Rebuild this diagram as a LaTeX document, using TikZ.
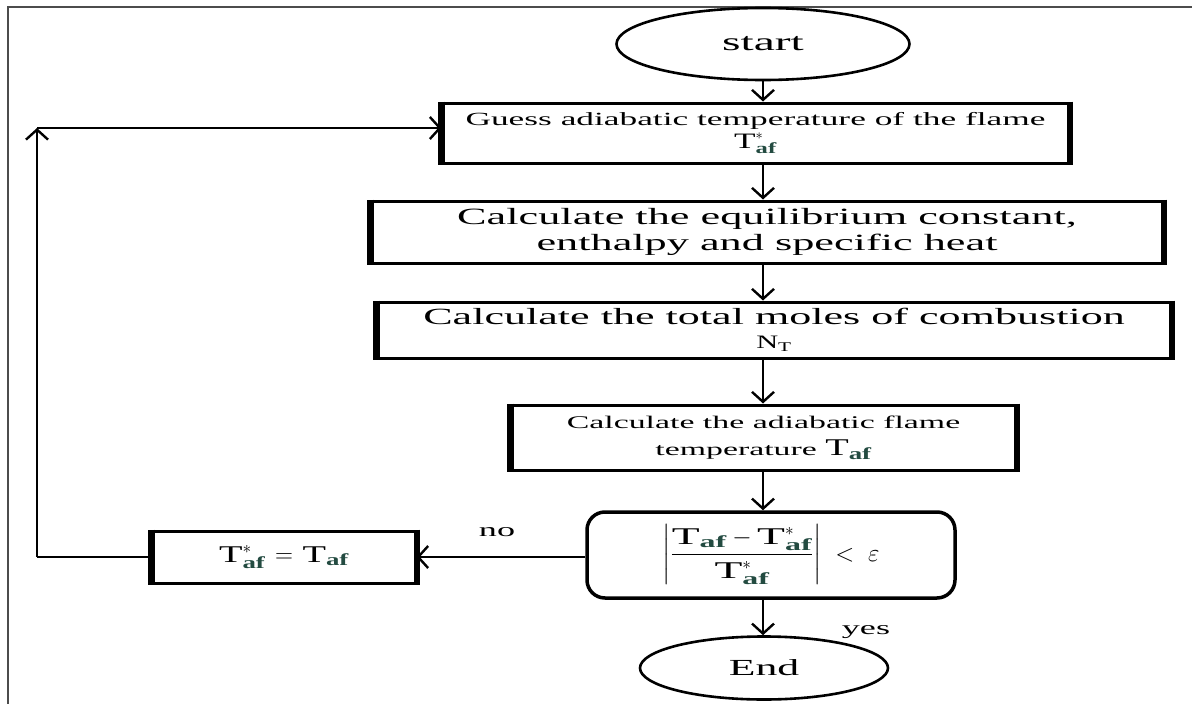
\documentclass[tikz,border=0pt]{standalone}
\usepackage{amsmath}
\usepackage{fontspec}
\setmainfont{Liberation Serif}
\newfontfamily\fa[FakeStretch=1.9]{Liberation Serif}
\newfontfamily\fb[FakeStretch=1.6]{Liberation Serif}
\usetikzlibrary{arrows.meta,shapes.geometric}
\definecolor{subc}{RGB}{35,75,65}
\newcommand\Ts[1]{\ensuremath{\text{T}^{#1}_{\text{\textcolor{subc}{\bfseries af}}}}}
\newcommand\Tn{\ensuremath{\text{T}_{\text{\textcolor{subc}{\bfseries af}}}}}
\tikzset{
  frame/.style={draw=black!70, line width=1.6pt},
  oval/.style={ellipse, draw, line width=2.6pt, inner sep=0pt},
  pbox/.style={rectangle, draw, line width=3pt, inner sep=0pt, align=center},
  dbox/.style={rectangle, rounded corners=18pt, draw, line width=3.5pt, inner sep=0pt, align=center},
  conn/.style={line width=2.4pt},
  arr/.style={line width=2.4pt, -{Straight Barb[length=10pt,width=22pt,line width=2.4pt]}},
  lbl/.style={inner sep=0pt, font=\fa\fontsize{19}{24}\selectfont}
}
\begin{document}
\begin{tikzpicture}[x=1pt,y=-1pt]
\useasboundingbox (0,0) rectangle (1192,704);
\fill[white] (0,0) rectangle (1192,704);
\draw[frame] (8,704) -- (8,7) -- (1192,7);

\node[oval, minimum width=293pt, minimum height=72pt, font=\fa\fontsize{25}{27}\selectfont] (start) at (763,44) {start};

\node[pbox, minimum width=625pt, minimum height=60pt, font=\fa\fontsize{18.6}{22}\selectfont] (b1) at (755.5,133)
  {Guess adiabatic temperature of the flame\\[1pt]{\fb\fontsize{22}{22}\selectfont\Ts{*}}};

\node[pbox, minimum width=790pt, minimum height=62pt, font=\fa\fontsize{23.3}{26}\selectfont] (b2) at (767,232)
  {Calculate the equilibrium constant,\\enthalpy and specific heat};

\node[pbox, minimum width=792pt, minimum height=56pt, font=\fa\fontsize{23.2}{24}\selectfont] (b3) at (774,330)
  {Calculate the total moles of combustion\\{\fb\fontsize{19}{16}\selectfont N\textsubscript{T}}};

\node[pbox, minimum width=503pt, minimum height=65pt, font=\fa\fontsize{17.8}{27}\selectfont] (b4) at (763.5,437.5)
  {Calculate the adiabatic flame\\temperature {\fb\fontsize{24}{23}\selectfont\Tn}};

\node[dbox, minimum width=368pt, minimum height=86pt, font=\fa\fontsize{24}{26}\selectfont] (dec) at (771,555)
  {$\left|\dfrac{\Tn-\Ts{*}}{\Ts{*}}\right|\;<\;\varepsilon$};

\node[pbox, minimum width=262pt, minimum height=52pt, font=\fb\fontsize{24}{28}\selectfont] (b5) at (284,557)
  {\Ts{*} $=$ \Tn};

\node[oval, minimum width=248pt, minimum height=63pt, font=\fa\fontsize{23}{27}\selectfont] (end) at (764,668) {End};

\foreach \n in {b1,b2,b3,b4,b5}{
  \draw[line width=7pt] (\n.north west) -- (\n.south west);
  \draw[line width=6pt] (\n.north east) -- (\n.south east);
}

\node[lbl] (no) at (497,532) {no};
\node[lbl] (yes) at (866,632) {yes};

\draw[arr] (start.south) -- (start.south |- b1.north);
\draw[arr] (start.south |- b1.south) -- (start.south |- b2.north);
\draw[arr] (start.south |- b2.south) -- (start.south |- b3.north);
\draw[arr] (start.south |- b3.south) -- (start.south |- b4.north);
\draw[arr] (start.south |- b4.south) -- (start.south |- dec.north);
\draw[arr] (start.south |- dec.south) -- (start.south |- end.north);
\draw[arr] (dec.west |- b5.east) -- (b5.east);
\coordinate (c1) at (37,557);
\coordinate (c2) at (37,128);
\draw[conn] (b5.west) -- (c1);
\draw[arr] (c1) -- (c2);
\draw[arr] (c2) -- (b1.west |- c2);
\end{tikzpicture}
\end{document}
